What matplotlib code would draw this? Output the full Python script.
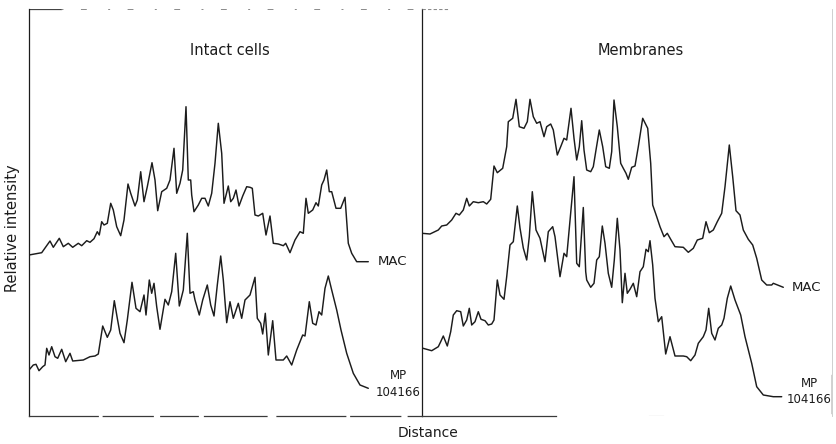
import matplotlib
matplotlib.use("Agg")
import matplotlib.pyplot as plt

# ---------------- data (distance, relative intensity) ----------------
# Intact cells, MAC
ic_mac_d = [0, 12.7, 21, 24.3, 30.3, 34.3, 39.3, 43.7, 49.3, 52.7, 57.7, 61, 65, 68.3, 70.3, 72.7,
            75, 78.3, 81.7, 84.3, 87.7, 91.7, 95, 99, 101.7, 106, 108.3, 111.7, 115, 118.3, 123,
            126, 128.7, 132.7, 137.7, 141, 145, 147.7, 151, 153.7, 157, 159.3, 161.7, 162.7, 165,
            169.3, 172.7, 176, 179.3, 182.7, 186, 189.3, 192.7, 195, 199.3, 201.7, 204.3, 207,
            210, 213.7, 217.7, 221, 223.3, 226, 229.3, 233.7, 237, 241, 244.3, 249.3, 254.3,
            256.7, 261, 266, 271, 274.3, 277, 279.3, 283.7, 287, 289.3, 292.7, 295, 297.7, 300.3,
            302.7, 307, 311.7, 316, 319.3, 322.7, 327.7, 339.3]
ic_mac_i = [161, 163.3, 175, 168.7, 177.7, 169.3, 172.7, 168.7, 172.7, 170.3, 175.3, 173.7, 177.3,
            184.3, 181, 194.3, 191, 192.7, 212.7, 206, 189.3, 180.3, 196, 232, 222.7, 210, 216,
            244.3, 214.3, 229.3, 253.3, 236, 205.3, 224.3, 227.7, 236, 267.7, 222.7, 232.7, 246,
            309.3, 236, 236, 221, 204.3, 211, 217.7, 217.7, 210, 222.7, 252.7, 292.7, 262.7,
            212.7, 230, 214.3, 217.7, 226, 210, 220, 229.3, 228.7, 227.7, 201, 200, 202.7, 181,
            200, 172.7, 172, 170.3, 172.7, 163.3, 176, 184.3, 182.7, 217.7, 202.7, 206, 213.3,
            210, 231, 236, 246, 224.3, 224.3, 207.7, 207.7, 218.7, 172.7, 162.7, 154.3, 154.3]

# Intact cells, MP 104166
ic_mp_d = [0, 4.3, 7, 10, 13.7, 16, 17.7, 20, 22.7, 26, 28.7, 32.7, 36.7, 41, 43.7, 54.3, 61, 66,
           69.3, 73.7, 78.3, 81.7, 85.3, 88.3, 91, 95, 98.3, 103, 107, 111, 115, 117, 120.3,
           122.7, 125, 127.7, 131, 136, 139.3, 142.7, 146.7, 150.3, 154.3, 158.3, 161, 164.3,
           166, 170.3, 173.7, 178.3, 181.7, 185, 188.3, 191.7, 194.3, 197.7, 201, 204.3, 209.3,
           212.7, 216, 221, 226, 228.3, 231.7, 233.7, 236.3, 239.3, 243.7, 247, 254.3, 257.7,
           262.7, 267.7, 273.7, 276, 280.3, 283.7, 287, 290, 292.7, 296, 299.3, 302.7, 307.7,
           312, 317.7, 324.3, 331, 339.3]
ic_mp_i = [46, 51, 51.7, 45.3, 49.3, 51, 67.7, 61, 69.3, 59.3, 57.7, 66.7, 54.3, 62.7, 55, 56,
           59.3, 60, 62, 90, 78.7, 86, 115.3, 97.7, 82.7, 73.3, 96, 133.7, 107.7, 104.3, 121,
           101, 136, 122.7, 132.7, 109.3, 86.7, 116.7, 111, 124.3, 162.7, 110, 126, 182.7,
           122.7, 124.3, 116, 101, 116, 131, 111, 100, 131, 160, 136, 93.3, 114.3, 97.7, 112.7,
           97.7, 116, 121, 138.7, 97.7, 92.7, 82, 102.7, 61, 95.3, 56, 56, 60, 51, 66, 81, 80,
           114.3, 92.7, 91, 104.3, 101, 127.7, 140, 126, 106, 86, 62.7, 42.7, 31, 27.7]

# Membranes, MAC
mb_mac_d = [0, 8, 16.3, 19.7, 24.7, 29.7, 34, 37.3, 41.3, 44.7, 47.3, 51.3, 56.3, 61.3, 64.7,
            68.7, 72, 75.3, 80.7, 84.7, 86.3, 90.7, 94, 97.3, 102, 105.3, 108, 111.3, 114.7, 118,
            122, 124.7, 128.7, 131.3, 135.3, 138.7, 142, 144.7, 149, 152, 154.7, 157.3, 159.7,
            162, 164.7, 168.7, 171.3, 174, 177.3, 180.7, 183.7, 187.3, 189.7, 192, 195.3, 198.7,
            201.3, 204, 206.3, 209.7, 213, 216.3, 220.7, 225.7, 228.7, 230.7, 234.7, 238, 242,
            245.3, 248.7, 253, 261.3, 266.3, 271.3, 275.3, 280.7, 284, 287.3, 291.3, 295.3,
            299.7, 303, 307.3, 310.7, 314, 318, 321.3, 326.3, 330.7, 334.7, 339.7, 344.7, 349.7,
            351.3, 361.3]
mb_mac_i = [182.7, 182, 186, 190, 191, 196, 202.7, 201, 206, 217.7, 210, 214.3, 213.3, 214.3,
            212, 216.7, 250, 243.3, 247.7, 269.3, 294.3, 297.7, 316.7, 289.3, 287.7, 294.3,
            316.7, 299.3, 292.7, 294.3, 279.3, 289.3, 292, 286, 261, 269.3, 277.7, 276, 307.7,
            277.7, 256, 269.3, 295.3, 266, 246, 244.3, 249.3, 266, 286, 269.3, 249.3, 247.7,
            264.3, 316, 289.3, 252.7, 247.7, 242.7, 236.7, 248.7, 250, 269.3, 297.7, 287.7,
            252.7, 211, 199.3, 189.3, 179.3, 182.7, 176.7, 169.3, 168.7, 163.7, 167.7, 176,
            177.7, 194.3, 183.3, 186, 194.3, 202.7, 229.3, 271, 239.3, 205.3, 201, 186, 176.7,
            171, 157.7, 136, 131, 131, 132.7, 128.7]

# Membranes, MP 104166
mb_mp_d = [0, 9.7, 16.3, 18.7, 21.3, 25.3, 28.7, 31.3, 34.7, 38.7, 41.3, 44.7, 47.3, 49.7, 53,
           56.3, 59, 63, 66.3, 69.7, 72, 75.3, 78, 82, 84.7, 88, 91.3, 95.3, 98, 101.3, 104.7,
           107.3, 110.3, 114, 118, 123, 126.3, 130.7, 133, 138, 142, 144.7, 152, 154.7, 157.3,
           161.3, 163.7, 164.7, 168.7, 172, 174.7, 177.3, 180.3, 183, 186.3, 189.7, 192.3,
           195.3, 198, 200.3, 203, 205.3, 208, 211.3, 214.7, 218, 221.3, 224, 226.3, 228, 230.7,
           233, 236.3, 239.7, 243.7, 248, 253, 261.3, 264.7, 268.7, 273, 276.3, 281.3, 284,
           286.7, 289.7, 293, 296.3, 299.7, 302, 305.3, 308.7, 313, 318.7, 323, 329.7, 334.7,
           341.3, 351.3, 359.7]
mb_mp_i = [68, 65.3, 69.3, 74.3, 80, 70, 84.3, 101, 105.3, 104.3, 90, 96, 107.7, 91, 94.3, 104.3,
           96.7, 95.3, 91, 92, 96, 136, 121, 116.7, 139.3, 171, 174.3, 210, 188, 168, 156,
           179.3, 224.3, 186, 177.7, 154.3, 184.3, 189.3, 179.3, 139.3, 162.7, 159.3, 239.3,
           152.7, 149.3, 208.5, 144.3, 136, 128.7, 132.7, 156, 159.3, 190, 172.7, 142.7, 128.7,
           156, 197.7, 166, 113.3, 142.7, 122.7, 126.7, 132.7, 119.3, 144.3, 149.3, 166.7,
           164.3, 175.3, 151, 117.7, 94.3, 99.3, 62, 79.3, 60, 60, 59.3, 55.3, 61, 72.7, 79.3,
           86, 107.7, 82.7, 76, 87.7, 91, 97.7, 117.7, 130, 116, 101, 79.3, 52.7, 29.3, 21,
           19.3, 19.3]

panel_titles = ["Intact cells", "Membranes"]
trace_labels = ["MAC", "MP\n104166"]

# ---------------- figure ----------------
W, H = 836, 444
fig = plt.figure(figsize=(W / 100, H / 100), dpi=100)
fig.patch.set_facecolor("white")

ink = "#1c1c1c"
faint = "#8a8a8a"
ax1 = fig.add_axes([29 / W, 28 / H, 393 / W, 407 / H])
ax2 = fig.add_axes([422 / W, 28 / H, 410 / W, 407 / H])
ax1.set_xlim(0, 393)
ax2.set_xlim(0, 410)
for ax in (ax1, ax2):
    ax.set_ylim(0, 407)
    ax.set_xticks([])
    ax.set_yticks([])
    ax.patch.set_alpha(0)
    for s in ax.spines.values():
        s.set_color(ink)
        s.set_linewidth(0.9)

# frame details (scan look: broken, faded top and bottom edges)
ax1.spines["top"].set_visible(False)
ax1.axhline(407, xmin=0, xmax=32 / 393, color="#444444", lw=0.9)
ax1.axhline(407, xmin=32 / 393, xmax=1, color=faint, lw=0.7, ls=(0, (2, 18, 6, 22)))
ax1.spines["bottom"].set_color("#3a3a3a")
ax1.spines["bottom"].set_linestyle((0, (55, 4, 40, 6, 30, 5, 50, 8)))
ax2.spines["left"].set_visible(False)
ax2.spines["top"].set_visible(False)
ax2.axhline(407, xmin=0, xmax=26 / 410, color=faint, lw=0.8, ls=(0, (3, 2)))
ax2.spines["bottom"].set_bounds(0, 134)
ax2.spines["bottom"].set_color("#3a3a3a")
ax2.axhline(0, xmin=227 / 410, xmax=241 / 410, color=faint, lw=0.8)
ax2.spines["right"].set_color("#c8c8c8")
ax2.spines["right"].set_linewidth(0.6)
ax2.axvline(410, ymin=3 / 407, ymax=41 / 407, color=ink, lw=1.0)

lw = 1.05
for ax, d, i in ((ax1, ic_mac_d, ic_mac_i), (ax1, ic_mp_d, ic_mp_i),
                 (ax2, mb_mac_d, mb_mac_i), (ax2, mb_mp_d, mb_mp_i)):
    ax.plot(d, i, color=ink, lw=lw, solid_joinstyle="round", solid_capstyle="round")

tfont = dict(family="DejaVu Sans", color=ink)
ax1.text(0.511, 0.897, panel_titles[0], transform=ax1.transAxes, ha="center", va="center",
         fontsize=10.5, **tfont)
ax2.text(0.534, 0.897, panel_titles[1], transform=ax2.transAxes, ha="center", va="center",
         fontsize=10.5, **tfont)

# trace labels
ax1.text(ic_mac_d[-1] + 9, ic_mac_i[-1], trace_labels[0], ha="left", va="center", fontsize=9.5, **tfont)
ax2.text(mb_mac_d[-1] + 8, mb_mac_i[-1], trace_labels[0], ha="left", va="center", fontsize=9.5, **tfont)
ax1.text(369, 32, trace_labels[1], ha="center", va="center", fontsize=8.5, linespacing=1.35,
         multialignment="center", **tfont)
ax2.text(387, 24.5, trace_labels[1], ha="center", va="center", fontsize=8.5, linespacing=1.35,
         multialignment="center", **tfont)

fig.text(13 / W, 1 - 228 / H, "Relative intensity", rotation=90, ha="center", va="center",
         fontsize=10.5, **tfont)
fig.text(428 / W, 1 - 433 / H, "Distance", ha="center", va="center", fontsize=10, **tfont)

fig.savefig("out.png", dpi=100)
